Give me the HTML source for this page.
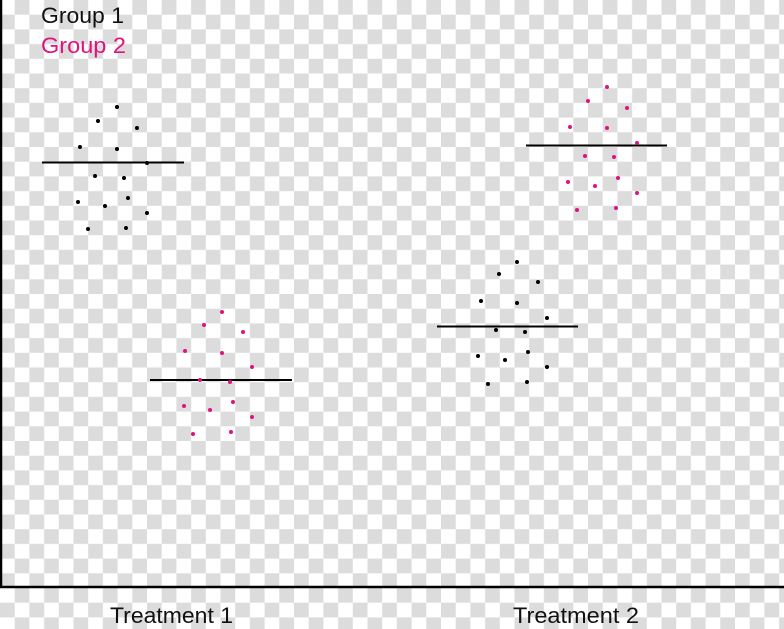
<!DOCTYPE html>
<html><head><style>
html,body{margin:0;padding:0;width:784px;height:629px;overflow:hidden;background:#fff}
svg{display:block}
text{font-family:"Liberation Sans",sans-serif}
</style></head><body>
<svg width="784" height="629" viewBox="0 0 784 629" xmlns="http://www.w3.org/2000/svg">
<defs>
<pattern id="ck" x="0" y="0" width="29.4" height="29.4" patternUnits="userSpaceOnUse">
<rect width="29.4" height="29.4" fill="#fff"/>
<rect x="0" y="14.7" width="14.7" height="14.7" fill="#dcdcdc"/>
<rect x="14.7" y="0" width="14.7" height="14.7" fill="#dcdcdc"/>
</pattern>
</defs>
<rect width="784" height="629" fill="url(#ck)"/>
<line x1="1" y1="0" x2="1" y2="588" stroke="#000" stroke-width="2.5"/>
<line x1="0" y1="587" x2="784" y2="587" stroke="#000" stroke-width="2.5"/>
<text x="41" y="23" font-size="22" fill="#111" textLength="83" lengthAdjust="spacingAndGlyphs">Group 1</text>
<text x="41" y="53" font-size="22" fill="#e0127f" textLength="85" lengthAdjust="spacingAndGlyphs">Group 2</text>
<text x="110" y="623" font-size="22" fill="#111" textLength="123" lengthAdjust="spacingAndGlyphs">Treatment 1</text>
<text x="513" y="623" font-size="22" fill="#111" textLength="126" lengthAdjust="spacingAndGlyphs">Treatment 2</text>
<g stroke="#000" stroke-width="2">
<line x1="42" y1="162.5" x2="184" y2="162.5"/>
<line x1="150" y1="380" x2="292" y2="380"/>
<line x1="437" y1="326.5" x2="578" y2="326.5"/>
<line x1="526" y1="145.5" x2="667" y2="145.5"/>
</g>
<g fill="#000">
<circle cx="117" cy="107" r="2"/><circle cx="98" cy="121" r="2"/><circle cx="137" cy="128" r="2"/><circle cx="80" cy="147" r="2"/><circle cx="117" cy="149" r="2"/><circle cx="147" cy="163" r="2"/><circle cx="95" cy="176" r="2"/><circle cx="124" cy="178" r="2"/><circle cx="78" cy="202" r="2"/><circle cx="105" cy="206" r="2"/><circle cx="128" cy="198" r="2"/><circle cx="147" cy="213" r="2"/><circle cx="88" cy="229" r="2"/><circle cx="126" cy="228" r="2"/>
<circle cx="517" cy="262" r="2"/><circle cx="499" cy="274" r="2"/><circle cx="538" cy="282" r="2"/><circle cx="481" cy="301" r="2"/><circle cx="517" cy="303" r="2"/><circle cx="547" cy="318" r="2"/><circle cx="496" cy="330" r="2"/><circle cx="525" cy="332" r="2"/><circle cx="478" cy="356" r="2"/><circle cx="505" cy="360" r="2"/><circle cx="528" cy="352" r="2"/><circle cx="547" cy="367" r="2"/><circle cx="488" cy="384" r="2"/><circle cx="527" cy="382" r="2"/>
</g>
<g fill="#e0127f">
<circle cx="222" cy="312" r="2"/><circle cx="204" cy="325" r="2"/><circle cx="243" cy="332" r="2"/><circle cx="185" cy="351" r="2"/><circle cx="222" cy="353" r="2"/><circle cx="252" cy="367" r="2"/><circle cx="200" cy="380" r="2"/><circle cx="230" cy="382" r="2"/><circle cx="233" cy="402" r="2"/><circle cx="184" cy="406" r="2"/><circle cx="210" cy="410" r="2"/><circle cx="252" cy="417" r="2"/><circle cx="193" cy="434" r="2"/><circle cx="231" cy="432" r="2"/>
<circle cx="607" cy="87" r="2"/><circle cx="588" cy="101" r="2"/><circle cx="627" cy="108" r="2"/><circle cx="570" cy="127" r="2"/><circle cx="607" cy="128" r="2"/><circle cx="637" cy="143" r="2"/><circle cx="585" cy="156" r="2"/><circle cx="614" cy="157" r="2"/><circle cx="568" cy="182" r="2"/><circle cx="595" cy="186" r="2"/><circle cx="618" cy="178" r="2"/><circle cx="637" cy="193" r="2"/><circle cx="577" cy="210" r="2"/><circle cx="616" cy="208" r="2"/>
</g>
</svg>
</body></html>
